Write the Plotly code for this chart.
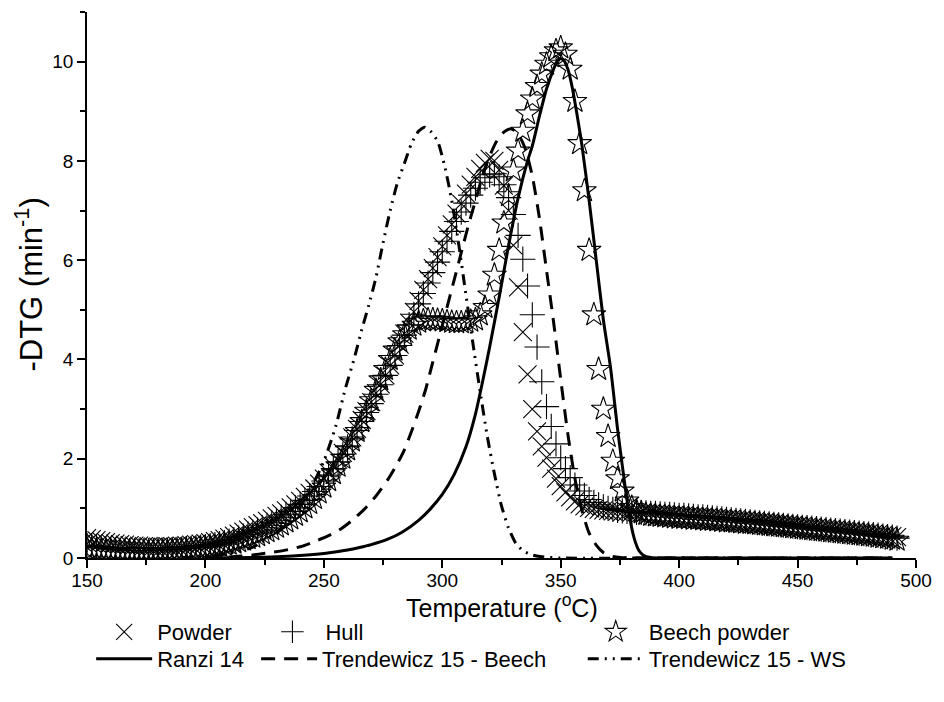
import plotly.graph_objects as go

# ---------------- data ----------------
T_MEAS = [150,152,154,156,158,160,162,164,166,168,170,172,174,176,178,180,182,184,186,188,190,192,194,196,198,
          200,202,204,206,208,210,212,214,216,218,220,222,224,226,228,230,232,234,236,238,240,242,244,246,248,
          250,252,254,256,258,260,262,264,266,268,270,272,274,276,278,280,282,284,286,288,290,292,294,296,298,
          300,302,304,306,308,310,312,314,316,318,320,322,324,326,328,330,332,334,336,338,340,342,344,346,348,
          350,352,354,356,358,360,362,364,366,368,370,372,374,376,378,380,382,384,386,388,390,392,394,396,398,
          400,402,404,406,408,410,412,414,416,418,420,422,424,426,428,430,432,434,436,438,440,442,444,446,448,
          450,452,454,456,458,460,462,464,466,468,470,472,474,476,478,480,482,484,486,488,490,492]

POWDER = [0.40,0.38,0.36,0.34,0.32,0.30,0.29,0.28,0.27,0.26,0.25,0.25,0.24,0.24,0.23,0.23,0.23,0.24,0.24,0.25,0.25,0.26,0.27,0.28,0.29,
          0.30,0.32,0.34,0.36,0.39,0.42,0.45,0.49,0.53,0.57,0.62,0.66,0.70,0.75,0.80,0.85,0.90,0.96,1.02,1.08,1.15,1.23,1.31,1.40,1.50,
          1.60,1.72,1.85,1.98,2.12,2.27,2.43,2.60,2.78,2.96,3.14,3.32,3.50,3.68,3.88,4.08,4.30,4.52,4.74,4.96,5.18,5.40,5.62,5.84,6.06,
          6.28,6.50,6.72,6.94,7.14,7.34,7.52,7.68,7.84,7.96,8.04,8.00,7.82,7.50,7.00,6.30,5.45,4.55,3.70,3.00,2.55,2.25,2.02,1.80,1.60,
          1.45,1.32,1.22,1.14,1.08,1.04,1.01,0.99,0.97,0.96,0.95,0.94,0.94,0.93,0.93,0.92,0.92,0.91,0.91,0.90,0.89,0.89,0.88,0.87,0.87,
          0.86,0.86,0.85,0.84,0.84,0.83,0.82,0.82,0.81,0.80,0.79,0.79,0.78,0.77,0.76,0.75,0.74,0.73,0.72,0.71,0.70,0.69,0.68,0.67,0.66,
          0.65,0.64,0.63,0.62,0.61,0.60,0.59,0.58,0.57,0.56,0.55,0.54,0.53,0.52,0.51,0.50,0.49,0.48,0.46,0.45,0.44,0.42]

HULL = [0.26,0.24,0.22,0.20,0.19,0.18,0.17,0.16,0.16,0.15,0.15,0.15,0.15,0.15,0.15,0.16,0.16,0.16,0.17,0.17,0.18,0.19,0.20,0.21,0.22,
        0.23,0.25,0.27,0.29,0.31,0.34,0.37,0.40,0.44,0.48,0.52,0.56,0.61,0.66,0.71,0.76,0.82,0.88,0.94,1.01,1.08,1.16,1.25,1.34,1.44,
        1.55,1.67,1.80,1.94,2.09,2.24,2.40,2.57,2.75,2.93,3.11,3.30,3.49,3.68,3.88,4.08,4.28,4.49,4.70,4.91,5.12,5.33,5.54,5.75,5.96,
        6.17,6.38,6.58,6.78,6.97,7.15,7.31,7.45,7.57,7.66,7.72,7.74,7.68,7.52,7.26,6.92,6.50,6.02,5.48,4.90,4.25,3.55,3.05,2.65,2.30,
        2.02,1.80,1.62,1.47,1.35,1.26,1.18,1.12,1.07,1.03,1.00,0.98,0.96,0.95,0.94,0.93,0.92,0.92,0.91,0.90,0.90,0.89,0.88,0.88,0.87,
        0.86,0.86,0.85,0.84,0.83,0.83,0.82,0.81,0.80,0.79,0.78,0.77,0.76,0.75,0.74,0.73,0.72,0.71,0.70,0.69,0.68,0.67,0.66,0.65,0.64,
        0.63,0.62,0.61,0.60,0.59,0.58,0.57,0.56,0.55,0.54,0.53,0.52,0.51,0.50,0.49,0.48,0.47,0.46,0.44,0.43,0.42,0.40]

BEECH = [0.18,0.17,0.16,0.15,0.14,0.14,0.13,0.13,0.12,0.12,0.12,0.12,0.12,0.12,0.12,0.13,0.13,0.13,0.14,0.14,0.15,0.15,0.16,0.17,0.18,
         0.19,0.20,0.22,0.24,0.26,0.28,0.30,0.33,0.36,0.39,0.42,0.45,0.49,0.53,0.57,0.62,0.67,0.73,0.79,0.86,0.93,1.01,1.10,1.20,1.31,
         1.43,1.56,1.70,1.85,2.01,2.18,2.36,2.55,2.75,2.96,3.17,3.38,3.59,3.80,4.00,4.19,4.36,4.50,4.61,4.69,4.75,4.78,4.80,4.80,4.79,
         4.78,4.76,4.75,4.74,4.74,4.75,4.77,4.80,4.90,5.05,5.30,5.70,6.20,6.75,7.30,7.80,8.20,8.60,8.95,9.25,9.50,9.75,9.95,10.10,10.22,
         10.28,10.15,9.85,9.20,8.35,7.40,6.20,4.90,3.80,3.00,2.45,1.95,1.60,1.35,1.15,1.02,0.95,0.91,0.88,0.86,0.85,0.84,0.83,0.82,0.81,
         0.80,0.80,0.79,0.78,0.78,0.77,0.76,0.76,0.75,0.74,0.73,0.73,0.72,0.71,0.70,0.70,0.69,0.68,0.67,0.66,0.65,0.64,0.63,0.62,0.61,
         0.60,0.59,0.58,0.57,0.56,0.55,0.54,0.53,0.52,0.51,0.50,0.49,0.48,0.47,0.46,0.45,0.44,0.42,0.41,0.40,0.38,0.36]

T_RANZI = [200,220,230,240,250,256,260,265,270,277,283,290,295,300,305,310,314,317,320,324,328,332,336,338,341,344,347,349,
           351,353,355,357,359,362,365,368,371,374,377,379,381,383,385,388,392,420,460,490]
RANZI = [0.0,0.01,0.025,0.05,0.09,0.13,0.16,0.21,0.27,0.38,0.52,0.76,0.99,1.28,1.68,2.24,2.90,3.55,4.25,5.25,6.30,7.25,8.00,8.30,8.90,9.45,9.85,10.05,
         10.05,9.85,9.45,8.90,8.30,7.20,6.00,4.80,3.85,2.60,1.50,0.85,0.40,0.15,0.05,0.01,0.0,0.0,0.0,0.0]

T_TB = [200,210,220,229,235,241,247,252,257,262,267,272,277,281,284,287,290,293,296,299,302,305,308,311,314,317,320,323,326,329,
        332,335,338,341,344,347,350,353,356,359,362,365,368,371,375,380,420,460,490]
TREND_BEECH = [0.0,0.02,0.06,0.12,0.17,0.24,0.35,0.45,0.58,0.76,0.98,1.25,1.58,1.90,2.18,2.55,2.95,3.40,3.95,4.50,5.05,5.60,6.15,6.70,7.20,7.70,8.10,8.40,8.58,8.65,
               8.55,8.25,7.70,6.85,5.80,4.75,3.60,2.50,1.60,0.95,0.50,0.26,0.11,0.04,0.01,0.0,0.0,0.0,0.0]

T_WS = [190,200,210,220,230,238,245,250,255,259,263,266,269,272,275,278,281,284,287,290,292.5,295,298,301,304,307,310,313,316,319,
        322,325,328,331,334,338,343,350,400,450,490]
TREND_WS = [0.0,0.03,0.09,0.22,0.50,0.90,1.45,1.95,2.65,3.40,4.05,4.60,5.10,5.65,6.35,7.00,7.55,7.95,8.35,8.60,8.68,8.60,8.40,7.90,7.20,6.30,5.30,4.30,3.35,2.45,
            1.70,1.05,0.60,0.30,0.15,0.06,0.02,0.0,0.0,0.0,0.0]

X_TITLE = "Temperature (<sup>o</sup>C)"
Y_TITLE = "-DTG (min<sup>-1</sup>)"

FONT = "Liberation Sans, Arial, sans-serif"

fig = go.Figure()

fig.add_trace(go.Scatter(x=T_MEAS, y=POWDER, mode="markers", name="Powder", legend="legend",
                         marker=dict(symbol="x-thin-open", size=18, color="black", line=dict(width=1.1, color="black"))))
fig.add_trace(go.Scatter(x=T_MEAS, y=HULL, mode="markers", name="Hull", legend="legend2",
                         marker=dict(symbol="cross-thin-open", size=18, color="black", line=dict(width=1.1, color="black"))))
fig.add_trace(go.Scatter(x=T_MEAS, y=BEECH, mode="markers", name="Beech powder", legend="legend3",
                         marker=dict(symbol="star-open", size=18, color="black", line=dict(width=1.1, color="black"))))
fig.add_trace(go.Scatter(x=T_RANZI, y=RANZI, mode="lines", name="Ranzi 14", legend="legend4",
                         line=dict(color="black", width=3, shape="spline", smoothing=0.6)))
fig.add_trace(go.Scatter(x=T_TB, y=TREND_BEECH, mode="lines", name="Trendewicz 15 - Beech", legend="legend5",
                         line=dict(color="black", width=3, dash="14px,9px", shape="spline", smoothing=0.6)))
fig.add_trace(go.Scatter(x=T_WS, y=TREND_WS, mode="lines", name="Trendewicz 15 - WS", legend="legend6",
                         line=dict(color="black", width=3, dash="11px,6px,2px,6px,2px,6px", shape="spline", smoothing=0.6)))

def leg(x, y):
    return dict(x=x, y=y, xanchor="left", yanchor="middle", bgcolor="rgba(0,0,0,0)",
                font=dict(family=FONT, size=22, color="black"), borderwidth=0, itemwidth=56)

def py(pix):
    return (558 - pix) / 546

row1, row2 = py(632), py(659)
fig.update_layout(
    width=944, height=702,
    margin=dict(l=87, r=20, t=12, b=144),
    paper_bgcolor="white", plot_bgcolor="white",
    font=dict(family=FONT, color="black"),
    showlegend=True,
    legend=leg(0.005, row1),
    legend2=leg(0.208, row1),
    legend3=leg(0.598, row1),
    legend4=leg(0.005, row2),
    legend5=leg(0.204, row2),
    legend6=leg(0.598, row2),
    xaxis=dict(range=[150, 500], dtick=50, tick0=150, showline=True, linecolor="black", linewidth=1.5,
               ticks="outside", ticklen=8, tickwidth=1.5, tickcolor="black", showgrid=False, zeroline=False,
               tickfont=dict(family=FONT, size=19, color="black"), ticklabelstandoff=-4,
               minor=dict(ticks="outside", ticklen=5, tickwidth=1.5, tickcolor="black", dtick=25, showgrid=False)),
    yaxis=dict(range=[0, 11], dtick=2, tick0=0, showline=True, linecolor="black", linewidth=1.5,
               ticks="outside", ticklen=8, tickwidth=1.5, tickcolor="black", showgrid=False, zeroline=False,
               tickfont=dict(family=FONT, size=19, color="black"),
               minor=dict(ticks="outside", ticklen=5, tickwidth=1.5, tickcolor="black", dtick=1, showgrid=False)),
    annotations=[
        dict(text=X_TITLE, xref="paper", yref="paper", x=0.5, y=py(606), xanchor="center", yanchor="middle",
             showarrow=False, font=dict(family=FONT, size=25, color="black")),
        dict(text=Y_TITLE, xref="paper", yref="paper", x=(28 - 87) / 837, y=0.5, xanchor="center", yanchor="middle",
             textangle=-90, showarrow=False, font=dict(family=FONT, size=31, color="black")),
    ],
)

fig.write_html("out.html")
